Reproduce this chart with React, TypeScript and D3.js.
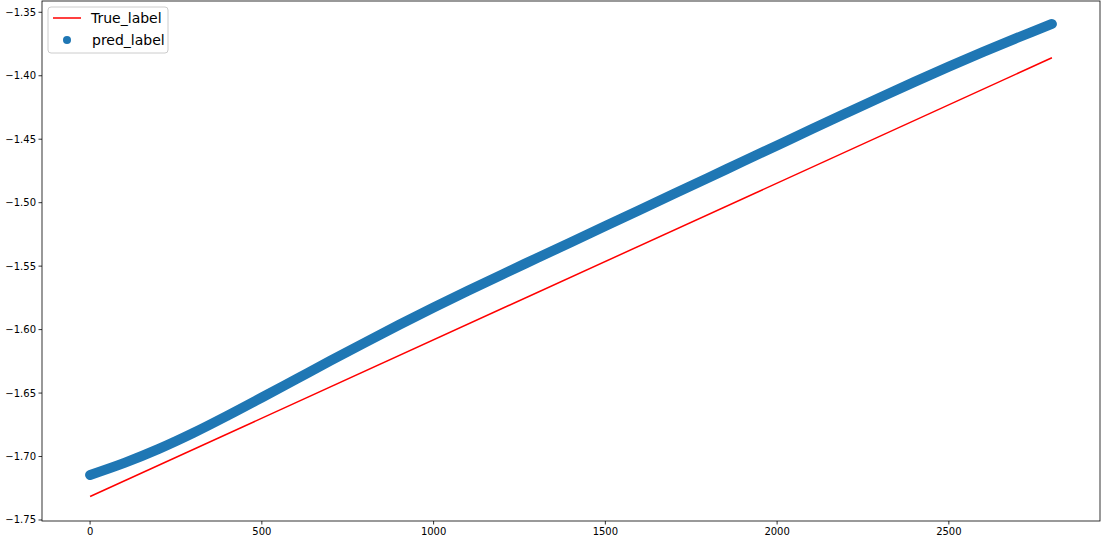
import React from 'react';
import * as d3 from 'd3';

const predIndex = [0, 100, 200, 300, 400, 500, 600, 700, 800, 900, 1000, 1100, 1200, 1300, 1400,
  1500, 1600, 1700, 1800, 1900, 2000, 2100, 2200, 2300, 2400, 2500, 2600, 2700, 2800];
const predValues = [-1.7145, -1.7050, -1.6940, -1.6815, -1.6678, -1.6535, -1.6390, -1.6245, -1.6102,
  -1.5962, -1.5826, -1.5694, -1.5565, -1.5438, -1.5311, -1.5184, -1.5057, -1.4930, -1.4803, -1.4676,
  -1.4549, -1.4422, -1.4296, -1.4171, -1.4048, -1.3928, -1.3812, -1.3700, -1.3592];

const trueIndex = [0, 2800];
const trueValues = [-1.7315, -1.3858];

const xTicks = [0, 500, 1000, 1500, 2000, 2500];
const yTicks = [-1.75, -1.70, -1.65, -1.60, -1.55, -1.50, -1.45, -1.40, -1.35];

const W = 1106;
const H = 544;
const left = 42, right = 1100, top = 1, bottom = 521;
const font = 'DejaVu Sans, sans-serif';

const App: React.FC = () => {
  const x = d3.scaleLinear().domain([-140, 2940]).range([left, right]);
  const y = d3.scaleLinear().domain([-1.7508, -1.3411]).range([bottom, top]);

  const predLine = d3.line<[number, number]>()
    .x(d => x(d[0]))
    .y(d => y(d[1]))
    .curve(d3.curveCatmullRom);
  const trueLine = d3.line<[number, number]>()
    .x(d => x(d[0]))
    .y(d => y(d[1]));

  const predPts = predIndex.map((v, i) => [v, predValues[i]] as [number, number]);
  const truePts = trueIndex.map((v, i) => [v, trueValues[i]] as [number, number]);
  const fmt = (v: number) => d3.format('.2f')(v).replace('-', '\u2212');

  return (
    <svg width={W} height={H} style={{ position: 'absolute', left: 0, top: 0, background: '#fff' }}>
      <path d={predLine(predPts) ?? ''} fill="none" stroke="#1f77b4"
        strokeWidth={10} strokeLinecap="round" strokeLinejoin="round" />
      <path d={trueLine(truePts) ?? ''} fill="none" stroke="red" strokeWidth={1.5} />

      <rect x={left} y={top} width={right - left} height={bottom - top} fill="none" stroke="#000" strokeWidth={0.8} />

      {xTicks.map(t => (
        <g key={t} transform={`translate(${x(t)},${bottom})`}>
          <line y2={3.5} stroke="#000" strokeWidth={0.8} />
          <text y={14} textAnchor="middle" fontFamily={font} fontSize={10} fill="#000">{t}</text>
        </g>
      ))}
      {yTicks.map(t => (
        <g key={t} transform={`translate(${left},${y(t)})`}>
          <line x2={-3.5} stroke="#000" strokeWidth={0.8} />
          <text x={-6} dy="0.35em" textAnchor="end" fontFamily={font} fontSize={10} fill="#000">{fmt(t)}</text>
        </g>
      ))}

      <g>
        <rect x={48} y={7} width={120} height={46} rx={3} fill="#fff" fillOpacity={0.8} stroke="#ccc" strokeWidth={1} />
        <line x1={53} x2={81} y1={18} y2={18} stroke="red" strokeWidth={1.5} />
        <text x={91} y={18} dy="0.35em" fontFamily={font} fontSize={14} fill="#000">True_label</text>
        <circle cx={67} cy={40} r={4} fill="#1f77b4" />
        <text x={92} y={40} dy="0.35em" fontFamily={font} fontSize={14} fill="#000">pred_label</text>
      </g>
    </svg>
  );
};

export default App;
